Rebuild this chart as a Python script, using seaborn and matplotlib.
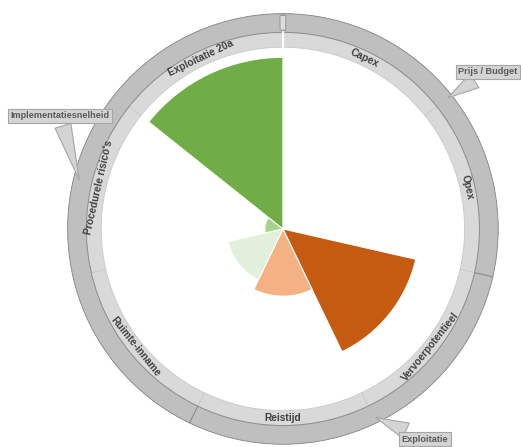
import numpy as np
import matplotlib.pyplot as plt
import seaborn as sns

# scores per criterium (0-10), clockwise from the top
categories = ["Capex", "Opex", "Vervoerpotentieel", "Reistijd",
              "Ruimte-inname", "Procedurele risico's", "Exploitatie 20a"]
scores = [0.0, 0.0, 7.5, 3.7, 3.1, 1.0, 9.45]
bar_colors = ["#f4b183", "#f4b183", "#c55a11", "#f4b183",
              "#e2efda", "#a9d18e", "#70ad47"]

# hoofdgroepen in de buitenste ring
groups = ["Prijs / Budget", "Exploitatie", "Implementatiesnelheid"]
group_sizes = [2, 2, 3]

sns.set_theme(style="white")
plt.rcParams['font.family'] = ['Liberation Sans', 'DejaVu Sans']

fig = plt.figure(figsize=(5.21, 4.47), dpi=100)
ax = fig.add_axes([0.128, 0.0038, 0.830, 0.968], projection='polar')
ax.set_theta_zero_location('N')
ax.set_theta_direction(-1)

n = len(categories)
width = 2 * np.pi / n
theta = np.arange(n) * width

# wedges
ax.bar(theta, scores, width=width, align='edge', color=bar_colors,
       edgecolor='white', linewidth=0.8, zorder=2)

# binnenste ring met criteria
ring_in, ring_mid, ring_out = 10.0, 10.82, 11.85
ax.bar(theta, ring_mid - ring_in, width=width, bottom=ring_in, align='edge',
       color='#d9d9d9', edgecolor='#c9c9c9', linewidth=0.6, zorder=1)
ax.plot([0, 0], [ring_in, ring_mid], color='white', lw=1.6, zorder=3)

# buitenste ring met groepen
g_starts = np.cumsum([0] + group_sizes[:-1]) * width
g_widths = np.array(group_sizes) * width
ax.bar(g_starts, ring_out - ring_mid, width=g_widths, bottom=ring_mid,
       align='edge', color='#bfbfbf', edgecolor='#8c8c8c', linewidth=0.7, zorder=1)
ax.bar(0, 0.8, width=0.028, bottom=ring_mid + 0.12, align='center',
       color='#dcdcdc', edgecolor='#8c8c8c', linewidth=0.6, zorder=3)

# labels in de ring
for i, cat in enumerate(categories):
    mid = theta[i] + width / 2
    deg = np.degrees(mid)
    rot = -deg if (deg < 90 or deg > 270) else 180 - deg
    ax.text(mid, (ring_in + ring_mid) / 2, cat, rotation=rot,
            rotation_mode='anchor', ha='center', va='center',
            fontsize=7.3, fontweight='bold', color='#404040', zorder=4)

# callouts voor de groepen
box_pos = [(488, 375), (425, 8), (60, 331)]
for name, start, w, pos in zip(groups, g_starts, g_widths, box_pos):
    ax.annotate(name, xy=(start + w / 2, 11.45), xytext=pos,
                textcoords='figure pixels', ha='center', va='center',
                fontsize=6.6, fontweight='bold', color='#595959',
                bbox=dict(boxstyle='square,pad=0.25', fc='#d4d4d4', ec='#a6a6a6', lw=0.8),
                arrowprops=dict(arrowstyle='wedge,tail_width=1.8,shrink_factor=0.5',
                                fc='#d4d4d4', ec='#a6a6a6', lw=0.8),
                annotation_clip=False, zorder=5)

ax.set_ylim(0, 11.9)
ax.set_xticks([])
ax.set_yticks([])
ax.grid(False)
ax.spines['polar'].set_visible(False)

fig.savefig('out.png', dpi=100)
